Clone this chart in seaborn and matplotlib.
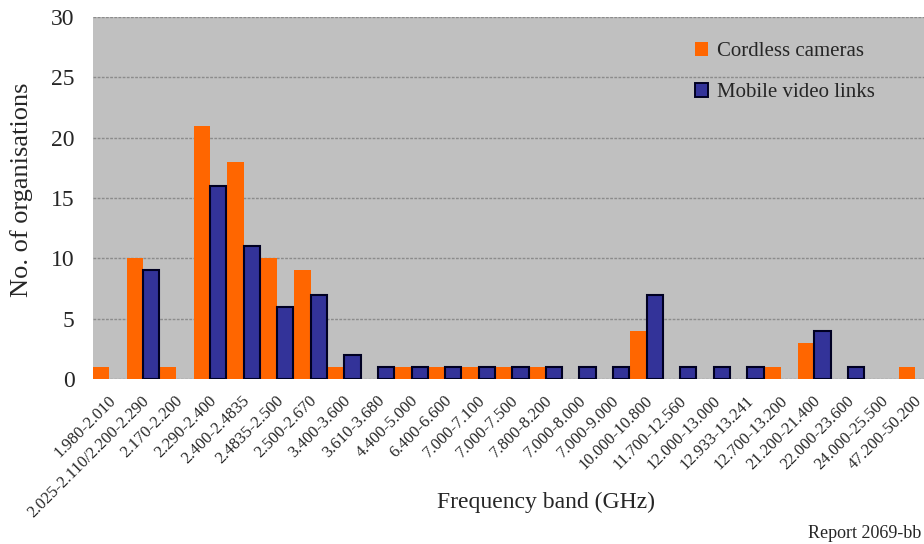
import matplotlib
matplotlib.use("Agg")
import matplotlib.pyplot as plt
import matplotlib.transforms as mtransforms
from matplotlib.patches import Patch
import seaborn as sns
import pandas as pd
import numpy as np

# ---- data ----
bands = [
    "1.980-2.010", "2.025-2.110/2.200-2.290", "2.170-2.200", "2.290-2.400",
    "2.400-2.4835", "2.4835-2.500", "2.500-2.670", "3.400-3.600",
    "3.610-3.680", "4.400-5.000", "6.400-6.600", "7.000-7.100",
    "7.000-7.500", "7.800-8.200", "7.000-8.000", "7.000-9.000",
    "10.000-10.800", "11.700-12.560", "12.000-13.000", "12.933-13.241",
    "12.700-13.200", "21.200-21.400", "22.000-23.600", "24.000-25.500",
    "47.200-50.200",
]
cordless_cameras = [1, 10, 1, 21, 18, 10, 9, 1, 0, 1, 1, 1, 1, 1, 0, 0,
                    4, 0, 0, 0, 1, 3, 0, 0, 1]
mobile_video_links = [0, 9, 0, 16, 11, 6, 7, 2, 1, 1, 1, 1, 1, 1, 1, 1,
                      7, 1, 1, 1, 0, 4, 1, 0, 0]
series_names = ["Cordless cameras", "Mobile video links"]
y_ticks = [0, 5, 10, 15, 20, 25, 30]

df = pd.DataFrame({
    "band": bands * 2,
    "value": cordless_cameras + mobile_video_links,
    "series": [series_names[0]] * len(bands) + [series_names[1]] * len(bands),
})

sns.set_theme(style="white")
plt.rcParams["font.family"] = ["Liberation Serif", "DejaVu Serif"]

ORANGE = "#FF6600"
BLUE = "#333399"
GRID = "#8C8C8C"
BG = "#C0C0C0"

fig = plt.figure(figsize=(9.24, 5.44), dpi=100)
W, H = 924, 544
left_px, right_px, top_px, bottom_px = 92.5, 932, 17, 379
ax = fig.add_axes([left_px / W, 1 - bottom_px / H,
                   (right_px - left_px) / W, (bottom_px - top_px) / H])
ax.set_facecolor(BG)

sns.barplot(data=df, x="band", y="value", hue="series", order=bands,
            hue_order=series_names, palette=[ORANGE, BLUE], width=0.97,
            gap=0, legend=False, ax=ax, errorbar=None, saturation=1)

# styling of bars
n = len(bands)
for i, p in enumerate(ax.patches):
    if i >= n:  # mobile video links
        p.set_edgecolor("#000022")
        p.set_linewidth(1.5)
    else:
        p.set_linewidth(0)
    if p.get_height() == 0:
        p.set_visible(False)

ax.set_xlim(-0.5, n - 0.5)
ax.set_ylim(0, 30)
ax.set_yticks(y_ticks)
ax.set_yticklabels([str(t) for t in y_ticks], fontsize=17)
ax.yaxis.grid(True, color=GRID, linestyle=(0, (2, 1)), linewidth=1.0)
ax.set_axisbelow(True)
ax.tick_params(axis="y", length=7, color=GRID, width=1.0, pad=6)

# category boundaries as minor ticks
ax.set_xticks(np.arange(-0.5, n, 1.0), minor=True)
ax.tick_params(axis="x", which="minor", length=4, color=GRID, width=1)
ax.tick_params(axis="x", which="major", length=0, pad=14)
ax.set_xticks(range(n))
ax.set_xticklabels(bands, rotation=45, ha="right", va="center",
                   rotation_mode="anchor", fontsize=12)
offset = mtransforms.ScaledTranslation(4 / 100, 0, fig.dpi_scale_trans)
for lbl in ax.get_xticklabels():
    lbl.set_transform(lbl.get_transform() + offset)

ax.set_xlabel("")
ax.set_ylabel("")
for s in ax.spines.values():
    s.set_visible(False)

fig.text(546 / W, 1 - 502 / H, "Frequency band (GHz)", ha="center",
         va="center", fontsize=17)
fig.text(22 / W, 1 - 190 / H, "No. of organisations", ha="center",
         va="center", rotation=90, fontsize=19)
fig.text(808 / W, 1 - 534 / H, "Report 2069-bb", ha="left", va="center",
         fontsize=13)

handles = [Patch(facecolor=ORANGE, edgecolor="none"),
           Patch(facecolor=BLUE, edgecolor="#000022", linewidth=1.4)]
ax.legend(handles, series_names, loc="upper left",
          bbox_to_anchor=(685 / W, 1 - 32 / H), bbox_transform=fig.transFigure,
          frameon=False, fontsize=15, handlelength=0.6, handleheight=0.6,
          handletextpad=0.45, labelspacing=1.05, borderpad=0)

fig.savefig("out.png", dpi=100)
